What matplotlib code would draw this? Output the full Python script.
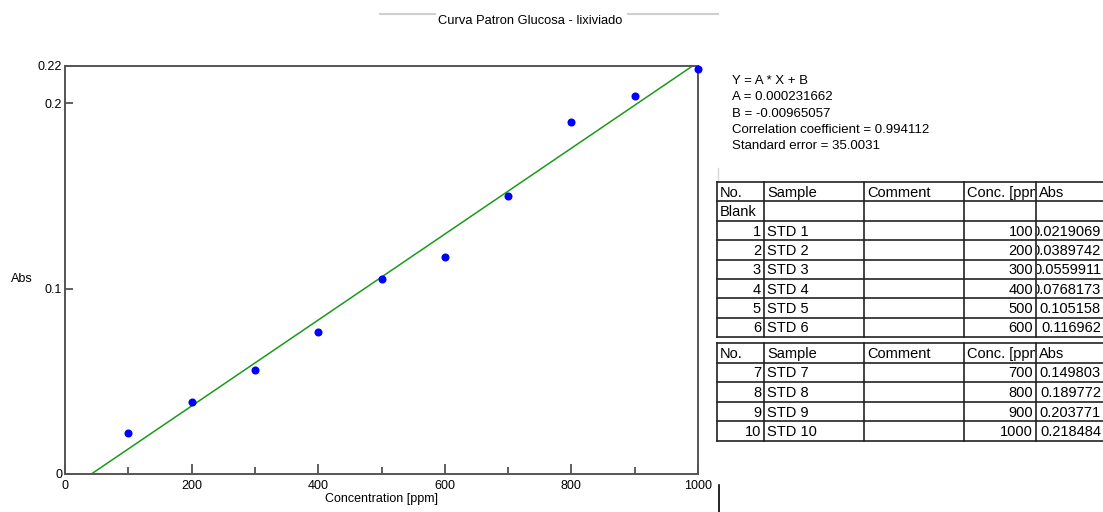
import numpy as np
import matplotlib.pyplot as plt
from matplotlib.transforms import Bbox, TransformedBbox

plt.rcParams['font.family'] = ['Liberation Sans', 'DejaVu Sans']

# calibration data (glucose standards)
conc = [100, 200, 300, 400, 500, 600, 700, 800, 900, 1000]
absorb = [0.0219069, 0.0389742, 0.0559911, 0.0768173, 0.105158,
          0.116962, 0.149803, 0.189772, 0.203771, 0.218484]
sample_names = ['STD 1', 'STD 2', 'STD 3', 'STD 4', 'STD 5',
                'STD 6', 'STD 7', 'STD 8', 'STD 9', 'STD 10']
slope = 0.000231662
intercept = -0.00965057
fit_text = ['Y = A * X + B', 'A = 0.000231662', 'B = -0.00965057',
            'Correlation coefficient = 0.994112', 'Standard error = 35.0031']
headers = ['No.', 'Sample', 'Comment', 'Conc. [ppm]', 'Abs']

W, H = 1103, 512
fig = plt.figure(figsize=(W / 100, H / 100), dpi=100)

# overlay in pixel coords for the window decorations and tables
ov = fig.add_axes([0, 0, 1, 1])
ov.set_xlim(0, W)
ov.set_ylim(H, 0)
ov.axis('off')

# main plot
ax = fig.add_axes([65 / W, 1 - 474 / H, (698 - 65) / W, (474 - 66) / H])
ax.set_xlim(0, 1000)
ax.set_ylim(0, 0.22)
xfit = np.array([-intercept / slope, 1000])
ax.plot(xfit, slope * xfit + intercept, color='#1a9a1a', lw=1.1, zorder=2)
ax.plot(conc, absorb, 'o', color='#0000ff', ms=5.8, mec='none', zorder=3, clip_on=False)

ax.set_xticks([0, 200, 400, 600, 800, 1000])
ax.set_xticks([100, 300, 500, 700, 900], minor=True)
ax.set_yticks([0, 0.1, 0.2, 0.22])
ax.set_yticklabels(['0', '0.1', '0.2', '0.22'])
ax.tick_params(axis='both', which='both', direction='in', color='#444444',
               labelsize=9, top=False, right=False)
ax.tick_params(axis='x', which='major', length=7, width=1.2, pad=4)
ax.tick_params(axis='x', which='minor', length=5, width=1.2)
ax.tick_params(axis='y', which='major', length=6, width=1.2, pad=2)
for s in ax.spines.values():
    s.set_color('#555555')
    s.set_linewidth(1.4)
ax.set_xlabel('Concentration [ppm]', fontsize=9, labelpad=1)
ov.text(22, 279, 'Abs', fontsize=9, ha='center', va='center')

# title with bar lines
ov.text(530, 21, 'Curva Patron Glucosa - lixiviado', fontsize=9.3, ha='center', va='center')
ov.plot([380, 435], [14, 14], color='#cfcfcf', lw=1.5)
ov.plot([628, 718], [14, 14], color='#cfcfcf', lw=1.5)
ov.plot([719, 719], [485, 512], color='black', lw=1.2)
ov.plot([718, 718], [168, 180], color='#d8d8d8', lw=1)

# regression text
for i, line in enumerate(fit_text):
    ov.text(732, 81 + i * 16.3, line, fontsize=9.5, va='center', ha='left')

cols = [717, 764, 864, 964, 1036, 1104]


def draw_table(top, rh, rows):
    n = len(rows) + 1
    bottom = top + n * rh
    for r in range(n + 1):
        ov.plot([cols[0], cols[-1]], [top + r * rh] * 2, color='#222222', lw=1.2)
    for c in cols[:-1]:
        ov.plot([c, c], [top, bottom], color='#222222', lw=1.2)
    allrows = [headers] + rows
    for r, row in enumerate(allrows):
        yc = top + (r + 0.5) * rh + 1
        for c, val in enumerate(row):
            if val == '':
                continue
            x0, x1 = cols[c], cols[c + 1]
            right = r > 0 and c in (0, 3, 4) and val != 'Blank'
            if right:
                t = ov.text(x1 - 3, yc, val, fontsize=10.5, ha='right', va='center')
            else:
                t = ov.text(x0 + 3, yc, val, fontsize=10.5, ha='left', va='center')
            box = Bbox([[x0 + 1, top + r * rh], [x1 - 1, top + (r + 1) * rh]])
            t.set_clip_box(TransformedBbox(box, ov.transData))
            t.set_clip_on(True)


rows1 = [['Blank', '', '', '', '']]
for i in range(6):
    rows1.append([str(i + 1), sample_names[i], '', str(conc[i]), f'{absorb[i]:g}'])
rows2 = []
for i in range(6, 10):
    rows2.append([str(i + 1), sample_names[i], '', str(conc[i]), f'{absorb[i]:g}'])

draw_table(182, 19.4, rows1)
draw_table(343, 19.6, rows2)

fig.savefig('out.png', dpi=100)
